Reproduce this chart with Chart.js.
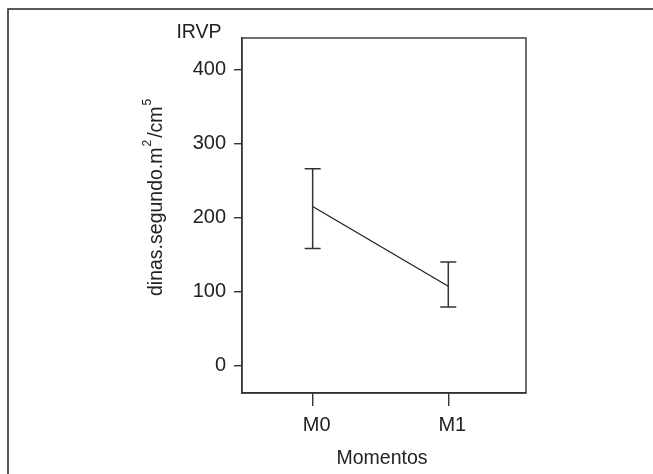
<!DOCTYPE html>
<html>
<head>
<meta charset="utf-8">
<script src="https://cdn.jsdelivr.net/npm/chart.js@4/dist/chart.umd.min.js"></script>
<style>
  html, body { margin: 0; padding: 0; background: #fff; }
</style>
</head>
<body>
<canvas id="irvpChart" width="653" height="474"></canvas>
<script>
// Data
const momentos = ['M0', 'M1'];
const irvpMedia = [215, 107];
const irvpSuperior = [266, 140];
const irvpInferior = [158, 79];
const yTicks = [0, 100, 200, 300, 400];

const FONT = "'Liberation Sans', Arial, sans-serif";
const INK = '#222';
const LINE = '#333';

// outer frame + box around the plot area
const framePlugin = {
  id: 'frame',
  beforeDraw(chart) {
    const ctx = chart.ctx;
    ctx.save();
    ctx.strokeStyle = INK;
    ctx.lineWidth = 1.5;
    ctx.beginPath();
    ctx.moveTo(8, 474);
    ctx.lineTo(8, 9);
    ctx.lineTo(653, 9);
    ctx.stroke();
    ctx.restore();
  },
  afterDraw(chart) {
    const a = chart.chartArea;
    const ctx = chart.ctx;
    ctx.save();
    ctx.strokeStyle = LINE;
    ctx.lineWidth = 1.4;
    ctx.strokeRect(a.left, a.top, a.right - a.left, a.bottom - a.top);
    ctx.restore();
  }
};

// error bars from the upper / lower arrays
const errorBarPlugin = {
  id: 'errorBars',
  afterDatasetsDraw(chart) {
    const ctx = chart.ctx;
    const xs = chart.scales.x;
    const ys = chart.scales.y;
    ctx.save();
    ctx.strokeStyle = LINE;
    ctx.lineWidth = 1.5;
    momentos.forEach((m, i) => {
      const x = xs.getPixelForValue(i);
      const yHi = ys.getPixelForValue(irvpSuperior[i]);
      const yLo = ys.getPixelForValue(irvpInferior[i]);
      ctx.beginPath();
      ctx.moveTo(x, yHi);
      ctx.lineTo(x, yLo);
      ctx.moveTo(x - 8, yHi);
      ctx.lineTo(x + 8, yHi);
      ctx.moveTo(x - 8, yLo);
      ctx.lineTo(x + 8, yLo);
      ctx.stroke();
    });
    ctx.restore();
  }
};

// titles (y title has superscripts)
const labelPlugin = {
  id: 'labels',
  afterDraw(chart) {
    const ctx = chart.ctx;
    ctx.save();
    ctx.fillStyle = INK;
    ctx.font = `19.5px ${FONT}`;
    ctx.textAlign = 'center';
    ctx.textBaseline = 'middle';
    ctx.fillText('IRVP', 199, 33);
    ctx.fillText('Momentos', 382, 459);

    // rotated y title
    ctx.translate(162, 296);
    ctx.rotate(-Math.PI / 2);
    ctx.textAlign = 'left';
    ctx.textBaseline = 'alphabetic';
    const parts = [
      { t: 'dinas.segundo.m', sup: false },
      { t: '2', sup: true },
      { t: '/cm', sup: false },
      { t: '5', sup: true }
    ];
    let x = 0;
    parts.forEach(p => {
      ctx.font = p.sup ? `12px ${FONT}` : `19.5px ${FONT}`;
      ctx.fillText(p.t, x, p.sup ? -11 : 0);
      x += ctx.measureText(p.t).width + (p.sup ? 2 : 1);
    });
    ctx.restore();
  }
};

const ctx = document.getElementById('irvpChart').getContext('2d');
new Chart(ctx, {
  type: 'line',
  data: {
    datasets: [{
      data: momentos.map((m, i) => ({ x: i, y: irvpMedia[i] })),
      borderColor: INK,
      borderWidth: 1.3,
      pointRadius: 0,
      tension: 0,
      fill: false
    }]
  },
  options: {
    responsive: false,
    animation: false,
    layout: { padding: { left: 0, top: 38, right: 127, bottom: 0 } },
    plugins: {
      legend: { display: false },
      tooltip: { enabled: false }
    },
    scales: {
      x: {
        type: 'linear',
        min: -0.521,
        max: 1.573,
        afterFit(scale) { scale.height = 81; },
        afterBuildTicks(scale) { scale.ticks = momentos.map((m, i) => ({ value: i })); },
        ticks: {
          callback: (v) => momentos[v],
          color: INK,
          font: { family: FONT, size: 20 },
          padding: 7,
          labelOffset: 4,
          maxRotation: 0
        },
        grid: { drawOnChartArea: false, drawTicks: true, tickLength: 13, color: LINE, lineWidth: 1.4 },
        border: { display: true, color: LINE, width: 1.4 }
      },
      y: {
        min: -37.3,
        max: 442.8,
        afterFit(scale) { scale.width = 242; },
        afterBuildTicks(scale) { scale.ticks = yTicks.map(v => ({ value: v })); },
        ticks: {
          color: INK,
          font: { family: FONT, size: 20 },
          padding: 8
        },
        grid: { drawOnChartArea: false, drawTicks: true, tickLength: 8, color: LINE, lineWidth: 1.4 },
        border: { display: true, color: LINE, width: 1.4 }
      }
    }
  },
  plugins: [framePlugin, errorBarPlugin, labelPlugin]
});
</script>
</body>
</html>
